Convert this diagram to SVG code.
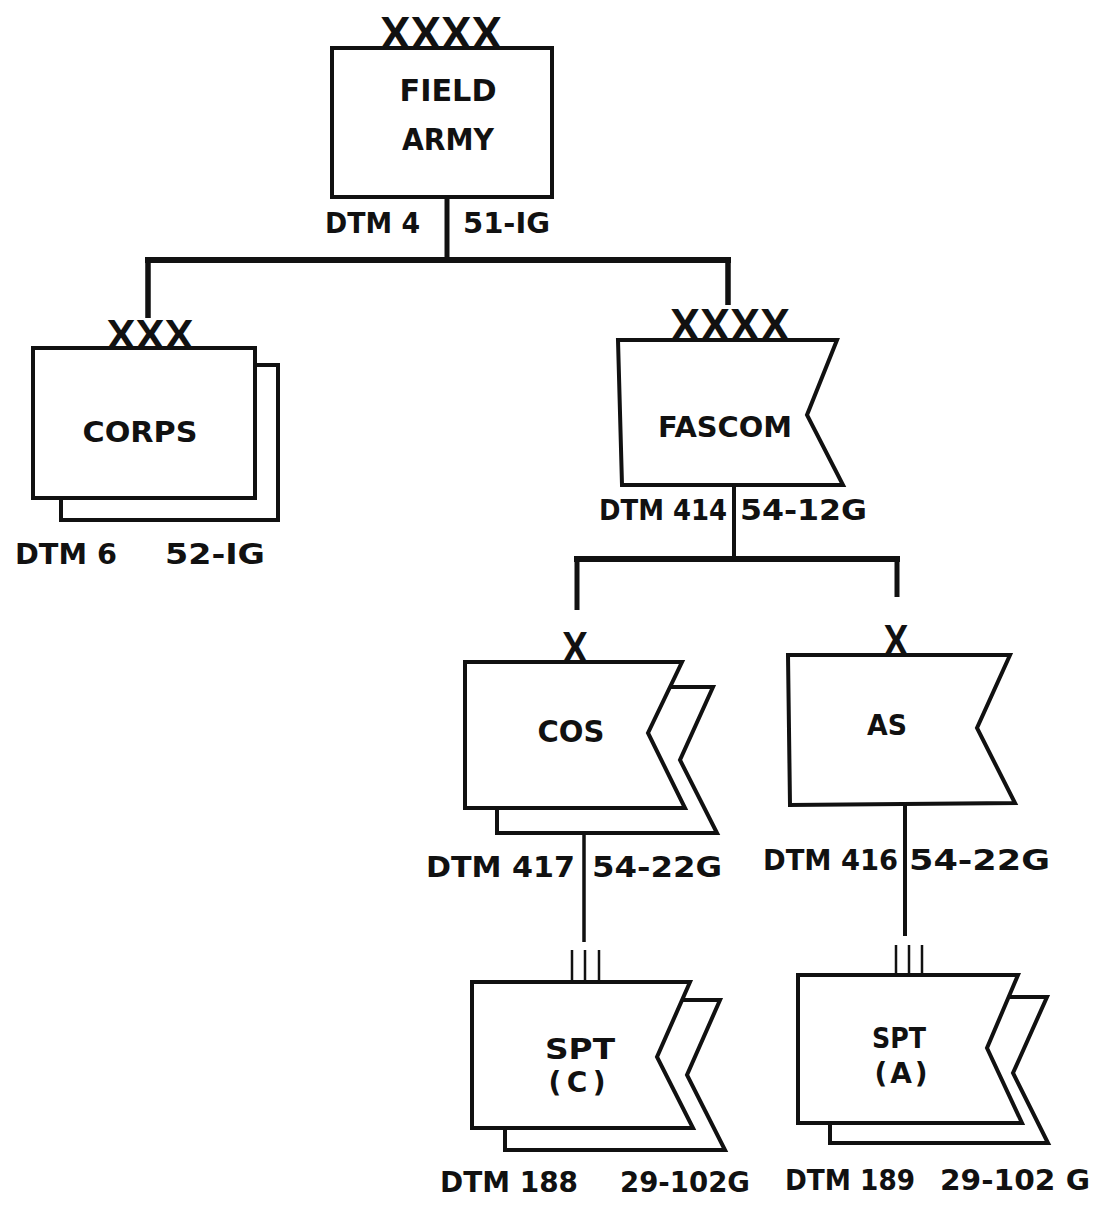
<svg xmlns="http://www.w3.org/2000/svg" width="1106" height="1205" viewBox="0 0 1106 1205">
<style>
text{font-family:"DejaVu Sans","Liberation Sans",sans-serif;font-weight:bold;fill:#111}
.ech{font-family:"Liberation Sans",Arial,sans-serif;font-size:46px;text-anchor:middle}
.lbl{font-size:30px;text-anchor:middle}
.dtm{font-size:28px}
.shape{fill:#fff;stroke:#111;stroke-width:4;stroke-linejoin:miter}
.conn{fill:none;stroke:#111;stroke-linecap:butt}
.iii{stroke:#111;stroke-width:2.5}
</style>
<rect width="1106" height="1205" fill="#fff"/>
<g id="connectors">
<path class="conn" stroke-width="5" d="M447,197 V260"/>
<path class="conn" stroke-width="6" d="M145,260 H731"/>
<path class="conn" stroke-width="5.5" d="M148,258 V318 M728,258 V305"/>
<path class="conn" stroke-width="4" d="M734,485 V560"/>
<path class="conn" stroke-width="6" d="M574,559 H900"/>
<path class="conn" stroke-width="5" d="M577,557 V610 M897,557 V597"/>
<path class="conn" stroke-width="3.5" d="M584,833 V942"/>
<path class="conn" stroke-width="4" d="M905,805 V936"/>
</g>
<g id="field-army">
<rect class="shape" x="332" y="48" width="220" height="149"/>
<text class="ech" x="441" y="49" textLength="122" lengthAdjust="spacingAndGlyphs">XXXX</text>
<text class="lbl" x="448" y="101" textLength="97" lengthAdjust="spacingAndGlyphs">FIELD</text>
<text class="lbl" x="448" y="150" textLength="92" lengthAdjust="spacingAndGlyphs">ARMY</text>
<text class="dtm" x="325" y="233" textLength="95" lengthAdjust="spacingAndGlyphs">DTM 4</text>
<text class="dtm" x="463" y="233" textLength="87" lengthAdjust="spacingAndGlyphs">51-IG</text>
</g>
<g id="corps">
<rect class="shape" x="61" y="365" width="217" height="155"/>
<rect class="shape" x="33" y="348" width="222" height="150"/>
<text class="ech" x="150" y="349" style="font-size:42px" textLength="87" lengthAdjust="spacingAndGlyphs">XXX</text>
<text class="lbl" x="140" y="442" style="font-size:28px" textLength="115" lengthAdjust="spacingAndGlyphs">CORPS</text>
<text class="dtm" x="15" y="564" textLength="102" lengthAdjust="spacingAndGlyphs">DTM 6</text>
<text class="dtm" x="165" y="564" textLength="100" lengthAdjust="spacingAndGlyphs">52-IG</text>
</g>
<g id="fascom">
<polygon class="shape" points="618,340 837,340 807,415 843,485 622,485"/>
<text class="ech" x="730" y="341" textLength="120" lengthAdjust="spacingAndGlyphs">XXXX</text>
<text class="lbl" x="725" y="437" style="font-size:28px" textLength="134" lengthAdjust="spacingAndGlyphs">FASCOM</text>
<text class="dtm" x="599" y="520" textLength="128" lengthAdjust="spacingAndGlyphs">DTM 414</text>
<text class="dtm" x="740" y="520" textLength="127" lengthAdjust="spacingAndGlyphs">54-12G</text>
</g>
<g id="cos">
<polygon class="shape" points="497,687 713,687 680,760 717,833 497,833"/>
<polygon class="shape" points="465,662 682,662 648,733 685,808 465,808"/>
<text class="ech" x="575" y="663" style="font-size:44px" textLength="26" lengthAdjust="spacingAndGlyphs">X</text>
<text class="lbl" x="571" y="742" textLength="67" lengthAdjust="spacingAndGlyphs">COS</text>
<text class="dtm" x="426" y="877" textLength="149" lengthAdjust="spacingAndGlyphs">DTM 417</text>
<text class="dtm" x="592" y="877" textLength="130" lengthAdjust="spacingAndGlyphs">54-22G</text>
</g>
<g id="as">
<polygon class="shape" points="788,655 1010,655 977,728 1015,803 790,805"/>
<text class="ech" x="896" y="656" style="font-size:44px" textLength="25" lengthAdjust="spacingAndGlyphs">X</text>
<text class="lbl" x="887" y="735" style="font-size:29px" textLength="40" lengthAdjust="spacingAndGlyphs">AS</text>
<text class="dtm" x="763" y="870" textLength="135" lengthAdjust="spacingAndGlyphs">DTM 416</text>
<text class="dtm" x="909" y="870" textLength="141" lengthAdjust="spacingAndGlyphs">54-22G</text>
</g>
<g id="spt-c">
<polygon class="shape" points="505,1000 720,1000 687,1075 725,1150 505,1150"/>
<polygon class="shape" points="472,982 690,982 657,1057 693,1128 472,1128"/>
<path class="iii" d="M572,950 V982 M585,950 V982 M599,950 V982"/>
<text class="lbl" x="580" y="1059" style="font-size:29px" textLength="70" lengthAdjust="spacingAndGlyphs">SPT</text>
<text class="lbl" x="577" y="1092" style="font-size:28px" textLength="57" lengthAdjust="spacing">(C)</text>
<text class="dtm" x="440" y="1192" textLength="138" lengthAdjust="spacingAndGlyphs">DTM 188</text>
<text class="dtm" x="620" y="1192" textLength="130" lengthAdjust="spacingAndGlyphs">29-102G</text>
</g>
<g id="spt-a">
<polygon class="shape" points="830,997 1047,997 1013,1073 1048,1143 830,1143"/>
<polygon class="shape" points="798,975 1018,975 987,1048 1022,1123 798,1123"/>
<path class="iii" d="M896,945 V975 M909,945 V975 M922,945 V975"/>
<text class="lbl" x="899" y="1048" style="font-size:29px" textLength="54" lengthAdjust="spacingAndGlyphs">SPT</text>
<text class="lbl" x="901" y="1083" style="font-size:28px" textLength="53" lengthAdjust="spacing">(A)</text>
<text class="dtm" x="785" y="1190" textLength="130" lengthAdjust="spacingAndGlyphs">DTM 189</text>
<text class="dtm" x="940" y="1190" textLength="150" lengthAdjust="spacingAndGlyphs">29-102 G</text>
</g>
</svg>
